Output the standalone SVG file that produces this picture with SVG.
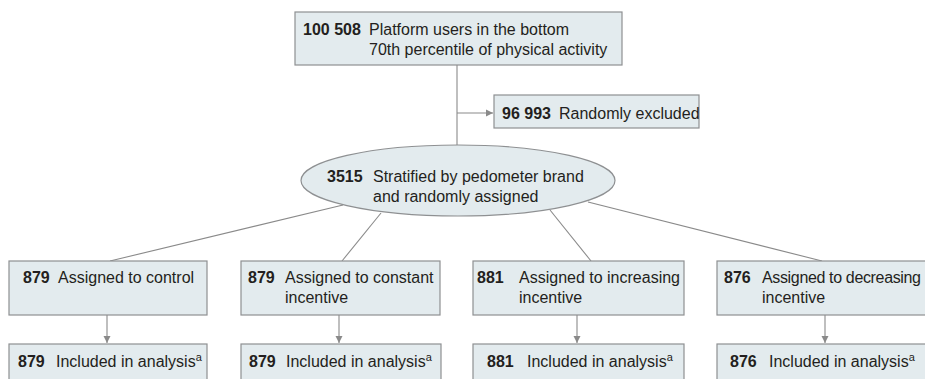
<svg xmlns="http://www.w3.org/2000/svg" width="925" height="379" viewBox="0 0 925 379">
<defs>
<style>
.box{fill:#e3ebee;stroke:#8e9092;stroke-width:1.2}
.ln{stroke:#8a8a8a;stroke-width:1.1;fill:none}
text{font-family:"Liberation Sans",Arial,sans-serif;font-size:16px;fill:#231f20}
.n{font-weight:bold}
.sup{font-size:11px}
.tight{letter-spacing:-0.35px}
</style>
<marker id="ah" markerWidth="8" markerHeight="8" refX="7" refY="4" orient="auto" markerUnits="userSpaceOnUse">
<path d="M0,0.5 L7,4 L0,7.5 Z" fill="#8a8a8a"/>
</marker>
</defs>
<g id="connectors">
<line class="ln" x1="457" y1="65" x2="457" y2="146"/>
<line class="ln" x1="457" y1="113" x2="493" y2="113" marker-end="url(#ah)"/>
<line class="ln" x1="343" y1="205" x2="110" y2="261"/>
<line class="ln" x1="381" y1="213" x2="342" y2="261"/>
<line class="ln" x1="550" y1="210" x2="591" y2="261"/>
<line class="ln" x1="588" y1="202" x2="822" y2="261"/>
<line class="ln" x1="107" y1="315" x2="107" y2="343" marker-end="url(#ah)"/>
<line class="ln" x1="339" y1="315" x2="339" y2="343" marker-end="url(#ah)"/>
<line class="ln" x1="577" y1="315" x2="577" y2="343" marker-end="url(#ah)"/>
<line class="ln" x1="825" y1="315" x2="825" y2="343" marker-end="url(#ah)"/>
</g>
<g id="n-top">
<rect class="box" x="295" y="12" width="327" height="53"/>
<text x="303" y="35"><tspan class="n">100 508</tspan></text>
<text x="369" y="35">Platform users in the bottom</text>
<text x="369" y="55">70th percentile of physical activity</text>
</g>
<g id="n-excluded">
<rect class="box" x="494" y="95" width="205" height="33"/>
<text x="502" y="119" class="n">96 993</text>
<text x="559" y="119">Randomly excluded</text>
</g>
<g id="n-random">
<ellipse class="box" cx="458" cy="180.5" rx="157" ry="35.5"/>
<text x="327" y="182" class="n">3515</text>
<text x="373" y="182">Stratified by pedometer brand</text>
<text x="373" y="202">and randomly assigned</text>
</g>
<g id="n-control">
<rect class="box" x="9" y="261" width="198" height="54"/>
<text x="23" y="283" class="n">879</text>
<text x="58" y="283">Assigned to control</text>
</g>
<g id="n-constant">
<rect class="box" x="241" y="261" width="199" height="54"/>
<text x="248" y="283" class="n">879</text>
<text x="285" y="283">Assigned to constant</text>
<text x="285" y="303">incentive</text>
</g>
<g id="n-increasing">
<rect class="box" x="473" y="261" width="211" height="54"/>
<text x="477" y="283" class="n">881</text>
<text x="519" y="283">Assigned to increasing</text>
<text x="519" y="303">incentive</text>
</g>
<g id="n-decreasing">
<rect class="box" x="717" y="261" width="220" height="54"/>
<text x="724" y="283" class="n">876</text>
<text x="762" y="283" class="tight">Assigned to decreasing</text>
<text x="762" y="303">incentive</text>
</g>
<g id="n-control-an">
<rect class="box" x="9" y="344" width="198" height="42"/>
<text x="18" y="367"><tspan class="n">879</tspan></text>
<text x="56" y="367">Included in analysis<tspan class="sup" dy="-6">a</tspan></text>
</g>
<g id="n-constant-an">
<rect class="box" x="241" y="344" width="200" height="42"/>
<text x="249" y="367" class="n">879</text>
<text x="286" y="367">Included in analysis<tspan class="sup" dy="-6">a</tspan></text>
</g>
<g id="n-increasing-an">
<rect class="box" x="473" y="344" width="211" height="42"/>
<text x="487" y="367" class="n">881</text>
<text x="527" y="367">Included in analysis<tspan class="sup" dy="-6">a</tspan></text>
</g>
<g id="n-decreasing-an">
<rect class="box" x="717" y="344" width="220" height="42"/>
<text x="730" y="367" class="n">876</text>
<text x="769" y="367">Included in analysis<tspan class="sup" dy="-6">a</tspan></text>
</g>
</svg>
